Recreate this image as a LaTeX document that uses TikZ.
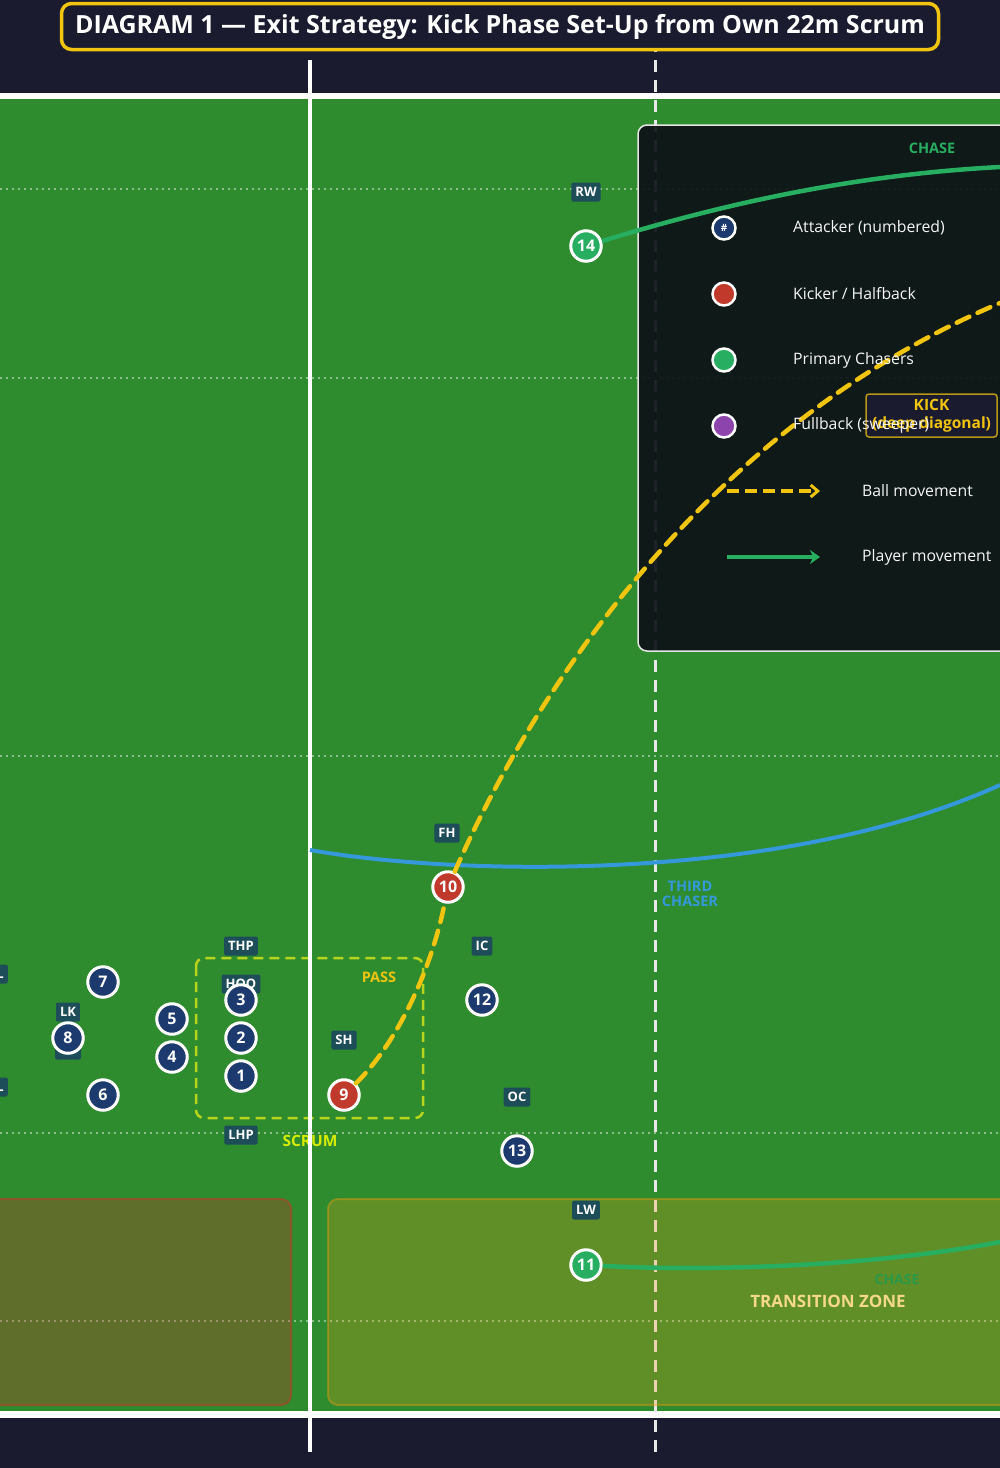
\documentclass[tikz,border=0pt]{standalone}
\usepackage{fontspec}
\setmainfont{Open Sans}
\usetikzlibrary{arrows.meta}
\definecolor{navybg}{HTML}{1B1B2F}
\definecolor{field}{HTML}{2E8B2E}
\definecolor{gold}{HTML}{F1C40F}
\definecolor{pnavy}{HTML}{1C3A6E}
\definecolor{pred}{HTML}{C0392B}
\definecolor{pgreen}{HTML}{27AE60}
\definecolor{ppurple}{HTML}{8E44AD}
\definecolor{tblue}{HTML}{3498DB}
\definecolor{lblbg}{HTML}{1E4D5A}
\definecolor{lime}{HTML}{B8D41C}
\definecolor{scrumtxt}{HTML}{D8EC00}
\definecolor{zonetxt}{HTML}{F5D88C}
\definecolor{legbg}{HTML}{0D1117}
\definecolor{orangez}{HTML}{F39C12}
\definecolor{redz}{HTML}{C0392B}
\definecolor{kickbd}{HTML}{B8961A}
\definecolor{chasedim}{HTML}{2A9A4A}
\begin{document}
\begin{tikzpicture}[x=1pt,y=-1pt,
  pl/.style={circle, draw=white, line width=3, minimum size=30.5, inner sep=0, text=white, font=\fontsize{16}{16}\selectfont\bfseries},
  att/.style={pl, fill=pnavy},
  kck/.style={pl, fill=pred},
  chs/.style={pl, fill=pgreen},
  lbl/.style={fill=lblbg, rounded corners=2, inner xsep=4, inner ysep=0, minimum height=19, text=white, font=\fontsize{13}{13}\selectfont\bfseries},
  lcirc/.style={circle, draw=white, line width=2.5, minimum size=23, inner sep=0, text=white, font=\fontsize{10}{10}\selectfont\bfseries},
  legtxt/.style={anchor=west, text=white!92!gray, font=\fontsize{15.8}{16}\selectfont, inner sep=0},
  dotline/.style={white, opacity=0.45, line width=1.5, dash pattern=on 2 off 4},
  ballpath/.style={gold, line width=4.5, dash pattern=on 14 off 9, line cap=round},
  runpath/.style={pgreen, line width=4.5},
  tag/.style={font=\fontsize{14.5}{16}\selectfont\bfseries, inner sep=0, align=center}
]
\clip (0,0) rectangle (1000,1468);
\useasboundingbox (0,0) rectangle (1000,1468);
% background and field
\fill[navybg] (0,0) rectangle (1000,1468);
\fill[field] (0,99) rectangle (1000,1411);
\fill[white] (0,93) rectangle (1000,99);
\fill[white] (0,1411) rectangle (1000,1418);
% dotted lines
\foreach \yy in {189,378,756,1133,1321} {\draw[dotline] (0,\yy) -- (1000,\yy);}
% dashed vertical line
\draw[white!82!gray, line width=3, dash pattern=on 12 off 8] (655,40) -- (655,1452);
% zones
\draw[fill=redz, fill opacity=0.35, draw=redz, draw opacity=0.55, line width=2, rounded corners=10] (-20,1199) rectangle (291,1405);
\draw[fill=orangez, fill opacity=0.25, draw=orangez, draw opacity=0.4, line width=2, rounded corners=10] (328,1199) rectangle (1020,1405);
\node[text=zonetxt, font=\fontsize{17}{18}\selectfont\bfseries, inner sep=0] (tz) at (828,1301) {TRANSITION ZONE};
\node[text=chasedim, font=\fontsize{14}{16}\selectfont\bfseries, inner sep=0] (chase2) at (897,1279) {CHASE};
% legend panel
\draw[draw=white!80!gray, line width=1.5, fill=legbg, fill opacity=0.92, rounded corners=9] (638,125) rectangle (1012,651);
\node[tag, text=pgreen] (chase1) at (932,148) {CHASE};
\node[lcirc, fill=pnavy] (lg1) at (724,228) {\#};
\node[lcirc, fill=pred] (lg2) at (724,294) {};
\node[lcirc, fill=pgreen] (lg3) at (724,360) {};
\node[lcirc, fill=ppurple] (lg4) at (724,426) {};
\coordinate (ba1) at (727,491);
\coordinate (ba2) at (820,491);
\coordinate (pa1) at (727,557);
\coordinate (pa2) at (820,557);
\draw[gold, line width=3.5, dash pattern=on 12 off 6, -{Straight Barb[length=7,width=12,line width=3]}] (ba1) -- (ba2);
\draw[pgreen, line width=3.5, -{Stealth[length=10,width=14]}] (pa1) -- (pa2);
% scrum box
\draw[lime, line width=2.5, dash pattern=on 10 off 6, rounded corners=8] (196,958) rectangle (423,1118);
\node[text=scrumtxt, font=\fontsize{15.5}{16}\selectfont\bfseries, inner sep=0] (scrumlbl) at (310,1141) {SCRUM};
\node[tag, text=gold] (passlbl) at (379,977) {PASS};
% white vertical line
\fill[white] (308,60) rectangle (312,1452);
% third chaser
\coordinate (tcs) at (310,850);
\coordinate (tce) at (1000,785);
\draw[tblue, line width=4] (tcs) .. controls (450,875) and (780,885) .. (tce);
\node[tag, text=tblue] (tclbl) at (690,894) {THIRD\\[-1pt]CHASER};
% labels
\node[lbl] (lRW) at (586,192) {RW};
\node[lbl] (lFH) at (447,833) {FH};
\node[lbl] (lIC) at (482,946) {IC};
\node[lbl] (lTHP) at (241,946) {THP};
\node[lbl] (lHOO) at (241,984) {HOO};
\node[lbl] (lLK) at (68,1012) {LK};
\node[lbl, minimum width=26] (lN) at (68,1050) {};
\node[lbl, anchor=east, text width=16, align=right] (lL1) at (8,974) {L};
\node[lbl, anchor=east, text width=16, align=right] (lL2) at (8,1087) {L};
\node[lbl] (lSH) at (344,1040) {SH};
\node[lbl] (lLHP) at (241,1135) {LHP};
\node[lbl] (lOC) at (517,1097) {OC};
\node[lbl] (lLW) at (586,1210) {LW};
% players
\node[chs] (p14) at (586,246) {14};
\node[kck] (p10) at (448,887) {10};
\node[kck] (p9) at (344,1095) {9};
\node[att] (p12) at (482,1000) {12};
\node[att] (p13) at (517,1151) {13};
\node[chs] (p11) at (586,1265) {11};
\node[att] (p7) at (103,982) {7};
\node[att] (p8) at (68,1038) {8};
\node[att] (p6) at (103,1095) {6};
\node[att] (p5) at (172,1019) {5};
\node[att] (p4) at (172,1057) {4};
\node[att] (p3) at (241,1000) {3};
\node[att] (p2) at (241,1038) {2};
\node[att] (p1) at (241,1076) {1};
% movement paths
\coordinate (ch14) at (1000,167);
\coordinate (ch11) at (1000,1242);
\coordinate (kickend) at (1000,303);
\draw[runpath] (p14) .. controls (720,205) and (850,175) .. (ch14);
\draw[runpath] (p11) .. controls (720,1272) and (880,1265) .. (ch11);
\draw[ballpath] (p9) .. controls (395,1045) and (430,975) .. (p10);
\draw[ballpath] (p10) .. controls (530,700) and (700,430) .. (kickend);
% kick label
\node[draw=kickbd, line width=1.5, fill=navybg, rounded corners=3, minimum width=131, minimum height=43, inner sep=0, align=center, text=gold, font=\fontsize{15.5}{18}\selectfont\bfseries] (kicklbl) at (931.5,415.5) {KICK\\(deep diagonal)};
% legend texts
\node[legtxt] (lt1) at (793,228) {Attacker (numbered)};
\node[legtxt] (lt2) at (793,294) {Kicker / Halfback};
\node[legtxt] (lt3) at (793,360) {Primary Chasers};
\node[legtxt] (lt4) at (793,425) {Fullback (sweeper)};
\node[legtxt] (lt5) at (862,491) {Ball movement};
\node[legtxt] (lt6) at (862,557) {Player movement};
% title
\node[draw=gold, line width=3.5, fill=navybg, rounded corners=10, minimum width=877, minimum height=46, inner sep=0, text=white, font=\fontsize{25}{28}\selectfont\bfseries] (title) at (500,26.5) {DIAGRAM 1 — Exit Strategy: Kick Phase Set-Up from Own 22m Scrum};
\end{tikzpicture}
\end{document}
